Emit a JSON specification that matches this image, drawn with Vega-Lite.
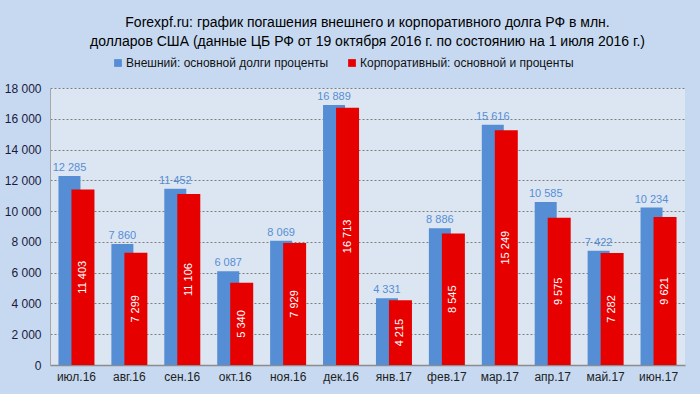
{
  "$schema": "https://vega.github.io/schema/vega-lite/v6.json",
  "width": 700,
  "height": 394,
  "autosize": {"type": "fit", "contains": "padding"},
  "padding": {"left": 4, "top": 16, "right": 15, "bottom": 12},
  "background": "#c6d9f1",
  "config": {
    "font": "Liberation Sans",
    "locale": {"number": {"decimal": ",", "thousands": " ", "grouping": [3], "currency": ["", ""]}},
    "view": {"fill": "#dce6f2", "stroke": null}
  },
  "title": {
    "text": ["Forexpf.ru: график погашения внешнего и корпоративного долга РФ в млн.", "долларов США (данные ЦБ РФ от 19 октября 2016 г. по состоянию на 1  июля 2016 г.)"],
    "fontSize": 14,
    "fontWeight": "normal",
    "color": "#000000",
    "anchor": "middle",
    "lineHeight": 19,
    "offset": 33
  },
  "data": {
    "values": [
      {"m": "июл.16", "s": "Внешний: основной долги проценты", "v": 12285},
      {"m": "авг.16", "s": "Внешний: основной долги проценты", "v": 7860},
      {"m": "сен.16", "s": "Внешний: основной долги проценты", "v": 11452},
      {"m": "окт.16", "s": "Внешний: основной долги проценты", "v": 6087},
      {"m": "ноя.16", "s": "Внешний: основной долги проценты", "v": 8069},
      {"m": "дек.16", "s": "Внешний: основной долги проценты", "v": 16889},
      {"m": "янв.17", "s": "Внешний: основной долги проценты", "v": 4331},
      {"m": "фев.17", "s": "Внешний: основной долги проценты", "v": 8886},
      {"m": "мар.17", "s": "Внешний: основной долги проценты", "v": 15616},
      {"m": "апр.17", "s": "Внешний: основной долги проценты", "v": 10585},
      {"m": "май.17", "s": "Внешний: основной долги проценты", "v": 7422},
      {"m": "июн.17", "s": "Внешний: основной долги проценты", "v": 10234},
      {"m": "июл.16", "s": "Корпоративный: основной и проценты", "v": 11403},
      {"m": "авг.16", "s": "Корпоративный: основной и проценты", "v": 7299},
      {"m": "сен.16", "s": "Корпоративный: основной и проценты", "v": 11106},
      {"m": "окт.16", "s": "Корпоративный: основной и проценты", "v": 5340},
      {"m": "ноя.16", "s": "Корпоративный: основной и проценты", "v": 7929},
      {"m": "дек.16", "s": "Корпоративный: основной и проценты", "v": 16713},
      {"m": "янв.17", "s": "Корпоративный: основной и проценты", "v": 4215},
      {"m": "фев.17", "s": "Корпоративный: основной и проценты", "v": 8545},
      {"m": "мар.17", "s": "Корпоративный: основной и проценты", "v": 15249},
      {"m": "апр.17", "s": "Корпоративный: основной и проценты", "v": 9575},
      {"m": "май.17", "s": "Корпоративный: основной и проценты", "v": 7282},
      {"m": "июн.17", "s": "Корпоративный: основной и проценты", "v": 9621}
    ]
  },
  "encoding": {
    "x": {
      "field": "m", "type": "nominal", "sort": null,
      "scale": {"paddingInner": 0, "paddingOuter": 0},
      "axis": {"title": null, "labelAngle": 0, "labelFontSize": 12, "labelColor": "#222222", "ticks": false, "domainColor": "#8c8c8c", "domainWidth": 1.5, "labelPadding": 6, "grid": false}
    },
    "y": {
      "field": "v", "type": "quantitative",
      "scale": {"domain": [0, 18000]},
      "axis": {"title": null, "values": [0, 2000, 4000, 6000, 8000, 10000, 12000, 14000, 16000, 18000], "labelOverlap": false, "format": ",d", "labelFontSize": 12, "labelColor": "#1a1a40", "ticks": false, "labelPadding": 9, "domainColor": "#a6a6a6", "gridColor": "#7f7f7f", "gridDash": [2, 2], "gridWidth": 1}
    }
  },
  "layer": [
    {
      "transform": [{"filter": "datum.s === 'Внешний: основной долги проценты'"}],
      "mark": {"type": "bar", "width": 22, "xOffset": -7},
      "encoding": {
        "color": {
          "field": "s", "type": "nominal",
          "scale": {"domain": ["Внешний: основной долги проценты", "Корпоративный: основной и проценты"], "range": ["#558ed5", "#e60000"]},
          "legend": {"title": null, "orient": "none", "legendX": 62, "legendY": -31, "direction": "horizontal", "symbolType": "square", "symbolSize": 60, "symbolStrokeWidth": 0, "labelFontSize": 12, "labelLimit": 0, "labelColor": "#111111", "columnPadding": 17, "labelOffset": 2}
        }
      }
    },
    {
      "transform": [{"filter": "datum.s !== 'Внешний: основной долги проценты'"}],
      "mark": {"type": "bar", "width": 23, "xOffset": 6.5},
      "encoding": {"color": {"field": "s", "type": "nominal"}}
    },
    {
      "transform": [{"filter": "datum.s === 'Внешний: основной долги проценты'"}],
      "mark": {"type": "text", "xOffset": -7, "dy": -3, "baseline": "bottom", "fontSize": 11, "color": "#558ed5"},
      "encoding": {"text": {"field": "v", "type": "quantitative", "format": ",d"}}
    },
    {
      "transform": [
        {"filter": "datum.s !== 'Внешний: основной долги проценты'"},
        {"calculate": "datum.v / 2", "as": "mid"}
      ],
      "mark": {"type": "text", "xOffset": 6.5, "angle": 270, "baseline": "middle", "align": "center", "fontSize": 11, "color": "#ffffff"},
      "encoding": {
        "y": {"field": "mid", "type": "quantitative"},
        "text": {"field": "v", "type": "quantitative", "format": ",d"}
      }
    }
  ]
}
